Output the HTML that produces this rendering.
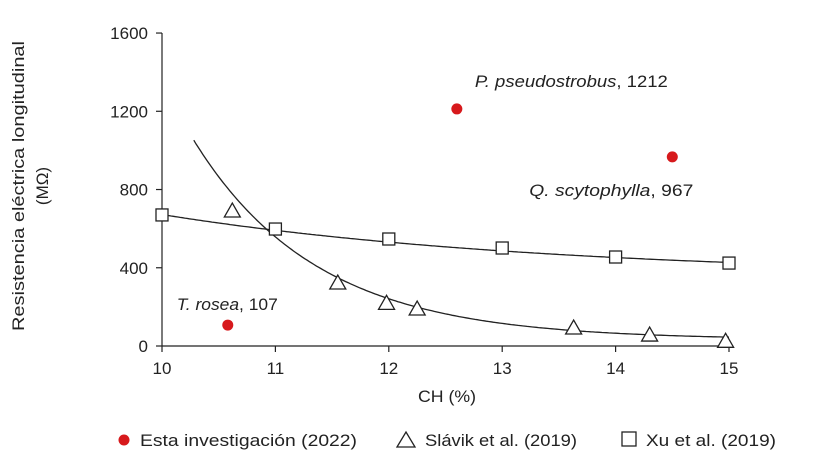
<!DOCTYPE html>
<html><head><meta charset="utf-8"><style>
html,body{margin:0;padding:0;background:#fff;}
svg{display:block;font-family:"Liberation Sans","DejaVu Sans",sans-serif;}
</style></head><body>
<svg id="chart" width="815" height="476" viewBox="0 0 815 476">
<g id="axes"></g>
<g id="curves"></g>
<g id="marks"></g>
<text x="0" y="0" transform="translate(24,186) rotate(-90)" text-anchor="middle" font-size="17" fill="#222" textLength="290" lengthAdjust="spacingAndGlyphs">Resistencia eléctrica longitudinal</text>
<text x="0" y="0" transform="translate(48,186) rotate(-90)" text-anchor="middle" font-size="17" fill="#222">(MΩ)</text>
<text x="447" y="402" text-anchor="middle" font-size="17" fill="#222" textLength="58" lengthAdjust="spacingAndGlyphs">CH (%)</text>
<g>
<g><circle cx="124" cy="440" r="5.5" fill="#d7191c"/><text x="140" y="446" font-size="17" fill="#222" textLength="217" lengthAdjust="spacingAndGlyphs">Esta investigación (2022)</text></g>
<g><path d="M397,447 L406,432 L415,447 Z" fill="none" stroke="#222" stroke-width="1.3"/><text x="425" y="446" font-size="17" fill="#222" textLength="152" lengthAdjust="spacingAndGlyphs">Slávik et al. (2019)</text></g>
<g><rect x="622" y="432" width="14" height="14" fill="none" stroke="#222" stroke-width="1.3"/><text x="646" y="446" font-size="17" fill="#222" textLength="130" lengthAdjust="spacingAndGlyphs">Xu et al. (2019)</text></g>
</g>
</svg>
<script>
const xTicks=[10,11,12,13,14,15];
const yTicks=[0,400,800,1200,1600];
const estaX=[10.58,12.6,14.5];
const estaY=[107,1212,967];
const estaLabels=["T. rosea","P. pseudostrobus","Q. scytophylla"];
const slavikX=[10.62,11.55,11.98,12.25,13.63,14.3,14.97];
const slavikY=[690,322,218,189,92,56,24];
const xuX=[10,11,12,13,14,15];
const xuY=[670,598,547,501,455,424];
const slavikFit=[1020,0.92,32];
const xuFit=[320,0.29,352];

const NS="http://www.w3.org/2000/svg";
const X=v=>162+(v-10)*113.4;
const Y=v=>346-v*0.1956;
function mk(tag,attrs,parent){const e=document.createElementNS(NS,tag);for(const k in attrs)e.setAttribute(k,attrs[k]);parent.appendChild(e);return e;}
const axes=document.getElementById('axes'),curves=document.getElementById('curves'),marks=document.getElementById('marks');
let e=mk('line',{x1:162,y1:Y(1600),x2:162,y2:346,stroke:'#222','stroke-width':1.2},axes);

e=mk('line',{x1:162,y1:346,x2:X(15),y2:346,stroke:'#222','stroke-width':1.2},axes);

xTicks.forEach(t=>{mk('line',{x1:X(t),y1:346,x2:X(t),y2:352,stroke:'#222','stroke-width':1.2},axes);
const tx=mk('text',{x:X(t),y:374,'text-anchor':'middle','font-size':17,fill:'#222'},axes);tx.textContent=t;
});
yTicks.forEach(t=>{mk('line',{x1:156,y1:Y(t),x2:162,y2:Y(t),stroke:'#222','stroke-width':1.2},axes);
const tx=mk('text',{x:148,y:Y(t)+6,'text-anchor':'end','font-size':17,fill:'#222'},axes);tx.textContent=t;
});
function fitPath(p,x0,x1){let d='';for(let x=x0;x<=x1+1e-9;x+=0.02){const y=p[0]*Math.exp(-p[1]*(x-10.28))+p[2];d+=(d?'L':'M')+X(x).toFixed(1)+','+Y(y).toFixed(1);}return d;}
e=mk('path',{d:fitPath(slavikFit,10.28,15),fill:'none',stroke:'#222','stroke-width':1.3},curves);

function fitPath2(p){let d='';for(let x=10;x<=15.0001;x+=0.02){const y=p[0]*Math.exp(-p[1]*(x-10))+p[2];d+=(d?'L':'M')+X(x).toFixed(1)+','+Y(y).toFixed(1);}return d;}
e=mk('path',{d:fitPath2(xuFit),fill:'none',stroke:'#222','stroke-width':1.3},curves);

xuX.forEach((x,i)=>{const r=mk('rect',{x:X(x)-6,y:Y(xuY[i])-6,width:12,height:12,fill:'#fff',stroke:'#222','stroke-width':1.3},marks);
});
slavikX.forEach((x,i)=>{const cx=X(x),cy=Y(slavikY[i]);const p=mk('path',{d:`M${cx-8},${cy+6} L${cx},${cy-8} L${cx+8},${cy+6} Z`,fill:'#fff',stroke:'#222','stroke-width':1.3},marks);
});
const labOff=[[-51,-15],[18,-22],[-143,39]];
const labLen=[101,193,164];
estaX.forEach((x,i)=>{const c=mk('circle',{cx:X(x),cy:Y(estaY[i]),r:5.5,fill:'#d7191c'},marks);

const t=mk('text',{x:X(x)+labOff[i][0],y:Y(estaY[i])+labOff[i][1],'font-size':17,fill:'#222',textLength:labLen[i],lengthAdjust:'spacingAndGlyphs'},marks);

const s=mk('tspan',{'font-style':'italic'},t);s.textContent=estaLabels[i];
const s2=mk('tspan',{},t);s2.textContent=', '+estaY[i];});
</script>
</body></html>
